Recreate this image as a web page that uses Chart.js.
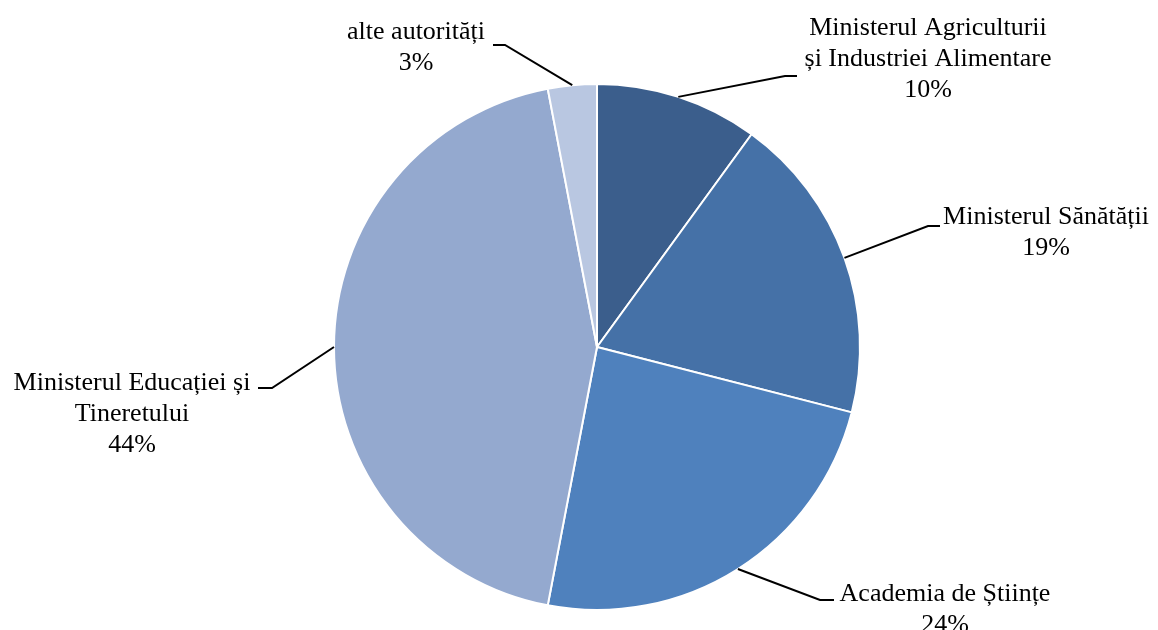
<!DOCTYPE html>
<html lang="ro">
<head>
    <meta charset="UTF-8">
    <title>Distribuția pe autorități</title>
    <script src="https://cdn.jsdelivr.net/npm/chart.js"></script>
    <style>
        html, body { margin: 0; padding: 0; background: #ffffff; }
        #wrap { width: 1158px; height: 630px; position: relative; }
    </style>
</head>
<body>
    <div id="wrap"><canvas id="pieChart" width="1158" height="630"></canvas></div>
    <script>
        // date
        const categories = [
            ['Ministerul Agriculturii', 'și Industriei Alimentare'],
            ['Ministerul Sănătății'],
            ['Academia de Științe'],
            ['Ministerul Educației și', 'Tineretului'],
            ['alte autorități']
        ];
        const shares = [10, 19, 24, 44, 3];
        const colors = ['#3b5e8c', '#4571a7', '#4f81bd', '#94a9cf', '#b9c7e1'];

        // unde stau etichetele (centru text, prima linie) si cotul liniei
        const labelPos = [
            { x: 928, y: 28, elbow: [785, 76], end: [797, 76] },
            { x: 1046, y: 217, elbow: [928, 226], end: [940, 226] },
            { x: 945, y: 594, elbow: [820, 600], end: [834, 600] },
            { x: 132, y: 383, elbow: [272, 388], end: [258, 388] },
            { x: 416, y: 32, elbow: [505, 45], end: [493, 45] }
        ];

        const leaderLabels = {
            id: 'leaderLabels',
            afterDraw(chart) {
                const ctx = chart.ctx;
                const arcs = chart.getDatasetMeta(0).data;
                ctx.save();
                ctx.font = '26px "Liberation Serif", "Times New Roman", serif';
                ctx.fillStyle = '#000000';
                ctx.textAlign = 'center';
                ctx.textBaseline = 'middle';
                arcs.forEach((arc, i) => {
                    const p = labelPos[i];
                    const mid = (arc.startAngle + arc.endAngle) / 2;
                    const sx = arc.x + Math.cos(mid) * arc.outerRadius;
                    const sy = arc.y + Math.sin(mid) * arc.outerRadius;
                    ctx.strokeStyle = '#000000';
                    ctx.lineWidth = 2;
                    ctx.beginPath();
                    ctx.moveTo(sx, sy);
                    ctx.lineTo(p.elbow[0], p.elbow[1]);
                    ctx.lineTo(p.end[0], p.end[1]);
                    ctx.stroke();
                    const lines = categories[i].concat([shares[i] + '%']);
                    lines.forEach((t, k) => ctx.fillText(t, p.x, p.y + k * 31));
                });
                ctx.restore();
            }
        };

        const ctx = document.getElementById('pieChart').getContext('2d');
        new Chart(ctx, {
            type: 'pie',
            data: {
                labels: categories.map(c => c.join(' ')),
                datasets: [{
                    data: shares,
                    backgroundColor: colors,
                    borderColor: '#ffffff',
                    borderWidth: 2
                }]
            },
            options: {
                responsive: false,
                animation: false,
                layout: { padding: { left: 333, right: 297, top: 83, bottom: 19 } },
                plugins: {
                    legend: { display: false },
                    tooltip: { enabled: false }
                }
            },
            plugins: [leaderLabels]
        });
    </script>
</body>
</html>
